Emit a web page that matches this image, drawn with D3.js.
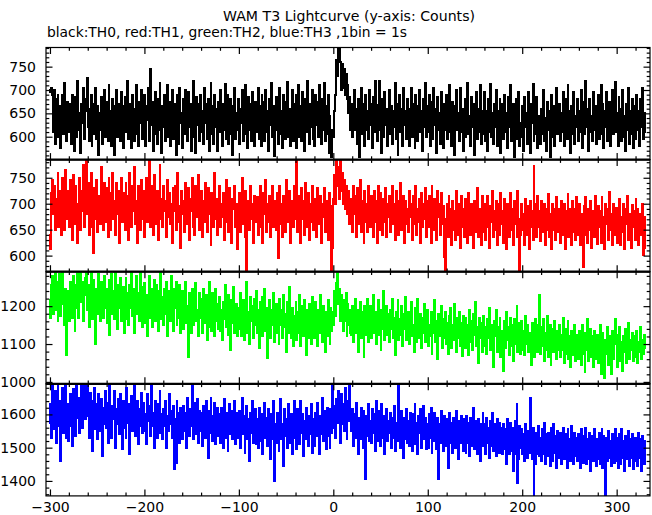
<!DOCTYPE html>
<html><head><meta charset="utf-8">
<script src="https://cdn.jsdelivr.net/npm/d3@7"></script>
<style>
html,body{margin:0;padding:0;background:#fff}
svg{display:block}
text{font-family:"DejaVu Sans",sans-serif;fill:#000}
</style></head>
<body><svg id="chart" width="652" height="515"></svg>
<script>
const titleText = "WAM T3 Lightcurve (y-axis: Counts)";
const subtitleText = "black:TH0, red:TH1, green:TH2, blue:TH3 ,1bin = 1s";
const tStart = -301; // time of first 1-s bin
const xTicks = [-300,-200,-100,0,100,200,300];
const xTickLabels = ["\u2212300","\u2212200","\u2212100","0","100","200","300"];
const seriesNames = ["TH0","TH1","TH2","TH3"];
const seriesColors = ["#000000","#ff0000","#00ff00","#0000ff"];
const yTicks0 = [600,650,700,750];
const yTicks1 = [600,650,700,750];
const yTicks2 = [1000,1100,1200];
const yTicks3 = [1400,1500,1600];
const yRange0 = [551,791];
const yRange1 = [569,785];
const yRange2 = [995,1291];
const yRange3 = [1355,1692];

const th0 = [
700,695,705,690,610,700,585,680,615,690,600,665,575,650,690,605,715,660,590,675,
610,670,645,585,690,625,570,660,685,600,720,650,615,565,670,630,705,595,655,680,
725,620,590,660,690,580,670,605,645,705,595,665,560,650,615,685,585,660,700,600,
645,675,590,710,610,655,580,680,625,560,665,700,600,670,640,590,695,620,575,665,
685,610,655,720,595,645,670,575,690,620,590,660,710,605,580,675,630,700,595,655,
610,690,580,665,635,705,590,745,625,675,570,605,695,650,585,680,615,715,660,565,
665,620,690,590,655,710,600,675,580,640,700,595,670,610,560,660,690,585,705,630,
650,575,680,605,700,660,590,695,620,670,570,645,720,600,660,565,685,625,670,590,
690,610,655,585,705,630,670,595,680,570,650,715,605,665,585,690,620,660,570,675,
610,700,645,580,670,615,712,595,660,690,585,640,680,605,560,665,705,595,650,615,
680,585,660,630,700,590,670,605,710,645,575,685,615,670,590,695,640,580,675,610,
655,705,595,665,580,690,625,675,590,700,610,655,570,680,625,715,600,665,558,650,
685,615,585,665,705,605,655,575,690,640,595,675,718,600,660,580,645,700,590,670,
620,690,575,650,710,600,665,590,695,635,570,680,610,720,655,585,670,620,700,595,
660,580,690,625,675,600,710,645,585,680,615,715,590,665,605,690,565,645,590,556,
615,600,655,690,765,730,792,792,760,700,755,705,745,690,735,680,710,650,685,615,
670,600,645,700,615,660,585,680,556,650,705,605,670,630,580,690,615,655,595,700,
625,670,575,685,610,720,640,590,668,720,615,660,565,680,600,695,625,660,580,645,
700,605,665,585,655,620,715,595,670,560,640,690,610,660,580,705,625,655,595,680,
615,580,660,705,600,650,670,575,690,625,590,665,700,610,655,570,680,620,715,600,
665,610,690,580,650,675,595,705,625,660,565,685,615,650,585,695,640,575,670,615,
690,595,655,610,710,630,580,675,605,560,665,700,615,650,590,705,610,660,570,640,
680,600,650,715,605,645,580,685,620,670,560,645,695,595,660,610,710,585,655,605,
630,695,590,655,570,680,610,712,600,650,585,670,620,700,580,655,605,680,565,640,
670,595,690,610,650,575,685,620,710,590,645,670,556,615,680,595,655,695,580,630,
600,665,570,685,620,650,585,695,610,565,670,630,712,590,655,605,685,575,645,620,
585,660,605,700,590,640,570,675,615,655,556,630,690,600,665,580,645,705,605,630,
670,590,650,610,695,580,640,680,595,710,615,655,565,665,605,695,585,645,620,680,
590,655,610,700,575,635,675,605,720,620,660,570,680,610,645,590,695,615,665,585,
650,690,595,635,710,605,670,575,655,620,695,590,650,675,580,640,700,605,660,718,
610,650,580,685,620,660,590,700,600,645,570,670,615,705,585,655,605,680,575,640,
665,595,690,615,655,580,680,620,705,595,650,610
];
const th1 = [
640,612,720,745,680,735,650,710,665,760,655,705,725,640,750,685,650,765,700,670,
725,655,745,690,630,755,705,660,735,680,625,700,750,650,725,685,775,655,700,782,
680,740,640,710,760,655,695,605,730,670,745,645,715,690,660,770,680,650,740,700,
665,730,635,750,690,650,720,760,670,705,640,740,680,725,625,700,750,665,720,690,
650,740,680,715,630,760,700,655,735,685,770,660,705,625,735,690,650,745,705,670,
725,635,695,750,665,710,785,655,735,690,640,755,700,660,725,630,690,775,670,710,
655,735,685,705,635,745,675,720,660,700,625,730,685,735,650,700,760,665,695,615,
725,680,705,645,740,690,660,730,630,710,685,750,655,700,640,735,675,700,755,650,
690,725,635,705,665,740,695,645,730,680,705,620,720,690,655,760,670,710,640,688,
735,655,700,675,720,630,690,745,665,705,645,730,685,625,710,690,735,655,700,612,
675,720,645,705,750,660,690,635,725,565,685,705,650,735,670,700,625,715,665,690,
712,640,690,735,655,700,625,720,680,745,645,700,665,715,635,690,735,655,705,675,
650,720,595,690,735,660,700,635,715,680,645,745,690,665,725,625,705,685,655,735,
670,700,782,645,715,680,625,730,670,705,640,740,690,655,720,630,700,665,735,685,
650,710,680,635,730,690,660,715,625,700,675,730,645,705,685,630,720,665,695,568,
615,710,755,700,785,735,770,710,782,725,760,700,745,690,735,705,680,725,660,710,
700,645,735,680,715,635,730,685,660,745,645,705,680,625,725,665,700,645,735,675,
655,715,690,635,725,665,705,625,735,680,650,720,690,640,710,665,730,635,700,675,
715,645,690,735,660,700,630,725,670,705,640,695,740,650,685,715,625,705,660,690,
645,725,675,700,630,715,660,695,735,640,690,665,710,625,720,655,700,670,730,635,
705,655,715,680,625,735,690,650,710,665,630,725,675,700,640,720,660,695,598,569,
670,700,635,715,655,690,620,705,650,685,630,725,665,640,700,615,715,655,690,635,
710,650,685,625,720,670,640,700,660,615,705,675,645,730,635,690,660,620,715,665,
645,700,630,685,715,655,615,695,665,725,635,685,650,705,620,675,700,640,720,660,
685,625,710,655,612,700,665,635,720,650,690,620,705,660,685,635,725,670,569,640,
700,650,680,620,710,665,640,695,612,705,655,685,630,772,665,700,635,715,655,685,
628,705,665,645,700,620,690,650,718,635,680,660,612,700,650,690,630,712,665,645,
690,625,705,655,640,700,612,685,650,718,635,690,660,620,705,645,690,630,712,655,
640,700,620,680,655,578,695,640,712,660,625,690,650,705,615,685,660,635,715,650,
622,695,655,685,625,712,645,675,612,700,660,690,630,722,650,680,620,700,655,640,
692,625,680,655,710,620,675,645,700,612,690,660,715,630,680,650,615,698,655,685,
630,710,655,690,620,680,665,640,700,602,675,615
];
const th2 = [
1215,1170,1255,1280,1180,1245,1290,1190,1265,1160,1230,1285,1175,1250,1290,1205,1150,1245,1072,1200,
1240,1160,1265,1205,1170,1280,1230,1135,1255,1195,1290,1170,1245,1290,1210,1265,1160,1230,1275,1290,
1190,1255,1145,1235,1290,1200,1165,1270,1220,1100,1245,1180,1285,1210,1160,1265,1225,1170,1280,1195,
1245,1155,1225,1270,1125,1210,1285,1180,1240,1165,1290,1225,1140,1255,1195,1275,1160,1220,1250,1130,
1215,1275,1165,1235,1150,1255,1195,1290,1175,1245,1130,1220,1280,1180,1235,1160,1290,1205,1145,1250,
1190,1260,1155,1230,1120,1215,1280,1170,1245,1145,1205,1270,1160,1255,1185,1135,1240,1200,1288,1165,
1225,1150,1245,1180,1265,1120,1200,1240,1160,1280,1185,1135,1245,1195,1265,1150,1220,1170,1255,1130,
1190,1240,1140,1215,1265,1155,1200,1065,1235,1170,1130,1245,1195,1150,1225,1260,1160,1190,1120,1235,
1170,1220,1130,1245,1155,1200,1230,1110,1185,1265,1145,1210,1135,1235,1175,1120,1245,1160,1205,1140,
1225,1135,1190,1110,1210,1165,1255,1145,1195,1125,1230,1170,1085,1215,1155,1250,1130,1190,1205,1120,
1195,1140,1235,1120,1180,1215,1110,1205,1155,1265,1130,1185,1100,1225,1160,1200,1115,1220,1150,1240,
1130,1190,1090,1210,1155,1225,1120,1180,1245,1135,1195,1062,1175,1215,1115,1190,1150,1235,1105,1180,
1205,1130,1175,1100,1220,1150,1190,1115,1230,1145,1180,1080,1210,1130,1250,1160,1115,1195,1095,1175,
1160,1210,1110,1185,1130,1230,1095,1170,1200,1120,1215,1145,1070,1190,1115,1205,1155,1100,1225,1140,
1180,1115,1210,1145,1095,1190,1130,1230,1160,1105,1200,1140,1080,1185,1120,1215,1155,1100,1195,1135,
1185,1150,1240,1175,1260,1290,1205,1245,1160,1230,1190,1135,1215,1160,1235,1120,1205,1150,1190,1130,
1125,1200,1105,1180,1220,1130,1190,1080,1165,1210,1115,1185,1140,1065,1200,1125,1175,1220,1105,1165,
1200,1115,1170,1230,1130,1185,1100,1160,1215,1125,1190,1085,1175,1140,1240,1110,1165,1200,1125,1180,
1105,1190,1140,1220,1115,1170,1070,1185,1135,1215,1110,1165,1125,1200,1095,1180,1140,1225,1110,1160,
1185,1100,1165,1210,1120,1150,1080,1195,1135,1105,1220,1150,1115,1180,1090,1170,1130,1205,1105,1155,
1190,1095,1150,1120,1185,1075,1165,1130,1215,1105,1160,1060,1180,1120,1145,1200,1090,1165,1115,1185,
1100,1155,1075,1175,1125,1195,1090,1150,1110,1205,1135,1080,1170,1115,1185,1095,1155,1068,1175,1130,
1090,1170,1120,1150,1070,1190,1105,1160,1085,1180,1125,1210,1095,1145,1050,1170,1115,1155,1080,1140,
1175,1095,1145,1075,1165,1115,1195,1085,1150,1105,1040,1160,1120,1190,1080,1145,1100,1170,1065,1135,
1130,1030,1160,1090,1185,1110,1145,1070,1170,1095,1150,1055,1165,1100,1135,1200,1080,1155,1110,1075,
1160,1085,1135,1070,1175,1100,1150,1080,1115,1130,1045,1155,1095,1140,1065,1165,1110,1080,1150,1230,
1075,1145,1095,1165,1055,1130,1085,1175,1065,1125,1150,1045,1140,1090,1080,1160,1105,1060,1135,1085,
1150,1065,1125,1085,1170,1050,1110,1140,1075,1160,1060,1120,1040,1135,1090,1070,1150,1055,1125,1095,
1060,1135,1090,1045,1150,1075,1115,1025,1130,1085,1165,1055,1110,1140,1065,1120,1040,1135,1095,1060,
1125,1050,1100,1150,1020,1090,1130,1065,1010,1110,1075,1145,1045,1120,1085,1020,1135,1060,1105,1165,
1100,1040,1125,1070,1145,1055,1105,1030,1120,1080,1140,1050,1095,1155,1060,1110,1085,1130,1055,1100,
1120,1065,1135,1050,1105,1080,1145,1060,1110,1075,1125,1090
];
const th3 = [
1575,1630,1530,1692,1605,1555,1670,1515,1620,1692,1565,1640,1460,1600,1680,1545,1615,1692,1530,1630,
1520,1565,1660,1595,1505,1675,1580,1630,1535,1690,1590,1650,1545,1615,1692,1560,1635,1692,1585,1692,
1692,1595,1530,1665,1570,1640,1490,1585,1680,1555,1630,1525,1660,1590,1550,1645,1475,1620,1570,1670,
1560,1635,1515,1605,1685,1565,1530,1625,1585,1670,1500,1615,1570,1645,1540,1660,1590,1495,1640,1560,
1610,1530,1680,1575,1630,1480,1595,1655,1550,1620,1692,1535,1590,1640,1510,1615,1565,1665,1545,1605,
1635,1550,1600,1510,1660,1580,1625,1535,1690,1565,1605,1500,1640,1590,1530,1630,1575,1670,1545,1600,
1525,1615,1565,1640,1500,1595,1550,1660,1570,1610,1530,1625,1435,1585,1455,1640,1555,1605,1515,1620,
1580,1525,1625,1550,1605,1500,1650,1575,1535,1615,1565,1692,1525,1595,1635,1540,1585,1645,1515,1610,
1550,1605,1505,1625,1565,1530,1640,1580,1470,1610,1545,1650,1565,1520,1595,1635,1510,1575,1620,1535,
1600,1515,1620,1555,1500,1645,1565,1530,1605,1490,1585,1630,1540,1610,1525,1575,1640,1510,1565,1605,
1530,1610,1500,1580,1650,1540,1595,1485,1565,1625,1525,1585,1460,1605,1545,1640,1515,1570,1615,1510,
1585,1500,1620,1555,1520,1600,1480,1570,1635,1530,1590,1505,1615,1550,1465,1600,1525,1640,1400,1570,
1515,1605,1550,1490,1590,1645,1525,1570,1445,1615,1535,1585,1500,1630,1555,1515,1600,1480,1575,1640,
1530,1590,1495,1615,1555,1510,1640,1545,1600,1475,1580,1525,1620,1555,1505,1595,1540,1630,1485,1585,
1570,1505,1605,1535,1635,1565,1480,1595,1540,1650,1520,1610,1550,1495,1620,1535,1585,1500,1615,1545,
1692,1560,1625,1530,1645,1575,1670,1600,1515,1660,1570,1630,1550,1680,1595,1525,1640,1580,1692,1610,
1550,1615,1505,1600,1530,1635,1565,1480,1590,1525,1620,1545,1500,1610,1560,1405,1595,1535,1630,1520,
1580,1515,1615,1545,1600,1490,1640,1555,1520,1610,1505,1585,1630,1530,1595,1480,1570,1615,1520,1580,
1545,1605,1500,1590,1530,1625,1490,1575,1520,1595,1692,1540,1500,1610,1555,1470,1590,1525,1615,1515,
1580,1505,1605,1540,1490,1600,1530,1630,1510,1575,1480,1595,1545,1615,1500,1565,1625,1525,1590,1495,
1570,1500,1600,1530,1620,1485,1580,1520,1605,1540,1495,1590,1405,1570,1515,1610,1535,1490,1595,1540,
1505,1585,1440,1530,1605,1515,1575,1485,1590,1525,1500,1610,1540,1465,1580,1515,1595,1530,1490,1585,
1525,1485,1595,1515,1575,1475,1590,1505,1560,1620,1495,1555,1580,1480,1585,1520,1460,1570,1505,1605,
1505,1570,1480,1590,1515,1560,1470,1580,1505,1605,1490,1555,1570,1475,1585,1515,1485,1575,1510,1560,
1480,1570,1495,1555,1450,1585,1510,1480,1575,1490,1560,1430,1545,1580,1480,1630,1395,1465,1565,1500,
1555,1480,1540,1460,1570,1500,1470,1550,1485,1650,1505,1465,1560,1355,1525,1450,1545,1480,1565,1475,
1530,1460,1555,1480,1575,1450,1540,1475,1545,1490,1445,1560,1495,1460,1570,1485,1535,1440,1550,1490,
1470,1545,1450,1530,1560,1465,1515,1540,1440,1555,1475,1525,1460,1565,1490,1450,1545,1475,1530,1460,
1540,1470,1440,1555,1490,1455,1535,1475,1560,1450,1525,1465,1545,1430,1520,1535,1460,1555,1480,1445,
1525,1465,1545,1450,1520,1555,1440,1535,1475,1355,1530,1460,1550,1470,1520,1445,1540,1485,1455,1555,
1460,1530,1440,1540,1475,1450,1555,1470,1520,1430,1535,1465,1515,1550,1445,1525,1470,1540,1435,1515,
1530,1460,1520,1445,1545,1470,1525,1430,1535,1475,1450,1520
];

const series = [th0, th1, th2, th3];
const yTickSets = [yTicks0, yTicks1, yTicks2, yTicks3];
const yRanges = [yRange0, yRange1, yRange2, yRange3];
const yMinorSteps = [10, 10, 20, 20];

// ---- layout ----
const left = 46, right = 650;
const panelTop = 47.5, panelH = 112.1;
const majorLen = 6.5, minorLen = 3.3;

const svg = d3.select("#chart");

svg.append("text").attr("x", 349).attr("y", 20.5).attr("text-anchor", "middle")
  .attr("font-size", 14).attr("textLength", 252).attr("lengthAdjust", "spacingAndGlyphs")
  .text(titleText);
svg.append("text").attr("x", 47).attr("y", 37.3)
  .attr("font-size", 14).attr("textLength", 360).attr("lengthAdjust", "spacingAndGlyphs")
  .text(subtitleText);

const x = d3.scaleLinear().domain([-304.2, 335.3]).range([left, right]);
const xMinor = d3.range(-300, 336, 20).filter(v => v % 100 !== 0);

const defs = svg.append("defs");

series.forEach((data, k) => {
  const y0 = panelTop + k * panelH, y1 = y0 + panelH;
  const y = d3.scaleLinear().domain(yRanges[k]).range([y1, y0]);
  const g = svg.append("g");

  defs.append("clipPath").attr("id", "clip" + k)
    .append("rect").attr("x", left).attr("y", y0).attr("width", right - left).attr("height", panelH);

  const pts = data.concat([data[data.length - 1]]);
  const line = d3.line()
    .x((d, i) => x(tStart + i))
    .y(d => y(d))
    .curve(d3.curveStepAfter);
  g.append("path").datum(pts)
    .attr("clip-path", "url(#clip" + k + ")")
    .attr("d", line)
    .attr("fill", "none")
    .attr("stroke", seriesColors[k])
    .attr("stroke-width", 2)
    .attr("shape-rendering", "crispEdges");

  const st = yMinorSteps[k];
  const d = yRanges[k];
  const yMinor = d3.range(Math.ceil(d[0] / st) * st, d[1] + 0.001, st).filter(v => !yTickSets[k].includes(v));

  g.append("g").attr("transform", `translate(${left},0)`)
    .call(d3.axisLeft(y).tickValues(yTickSets[k]).tickSize(-majorLen).tickPadding(10).tickFormat(d3.format("d")));
  g.append("g").attr("transform", `translate(${left},0)`)
    .call(d3.axisLeft(y).tickValues(yMinor).tickSize(-minorLen).tickFormat(""));
  g.append("g").attr("transform", `translate(${right},0)`)
    .call(d3.axisRight(y).tickValues(yTickSets[k]).tickSize(-majorLen).tickFormat(""));
  g.append("g").attr("transform", `translate(${right},0)`)
    .call(d3.axisRight(y).tickValues(yMinor).tickSize(-minorLen).tickFormat(""));

  g.append("g").attr("transform", `translate(0,${y0})`)
    .call(d3.axisTop(x).tickValues(xTicks).tickSize(-majorLen).tickFormat(""));
  g.append("g").attr("transform", `translate(0,${y0})`)
    .call(d3.axisTop(x).tickValues(xMinor).tickSize(-minorLen).tickFormat(""));
  const bottomMajor = d3.axisBottom(x).tickValues(xTicks).tickSize(-majorLen).tickPadding(6);
  if (k === series.length - 1) bottomMajor.tickFormat((v, i) => xTickLabels[i]);
  else bottomMajor.tickFormat("");
  g.append("g").attr("transform", `translate(0,${y1})`).call(bottomMajor);
  g.append("g").attr("transform", `translate(0,${y1})`)
    .call(d3.axisBottom(x).tickValues(xMinor).tickSize(-minorLen).tickFormat(""));

  g.append("rect").attr("x", left).attr("y", y0).attr("width", right - left).attr("height", panelH)
    .attr("fill", "none").attr("stroke", "#000").attr("stroke-width", 1.2);
  if (k > 0) {
    g.append("line").attr("x1", left).attr("x2", right).attr("y1", y0).attr("y2", y0)
      .attr("stroke", "#000").attr("stroke-width", 2.2);
  }
});

svg.selectAll(".domain").remove();
svg.selectAll(".tick line").attr("stroke", "#000").attr("stroke-width", 1.2);
svg.selectAll(".tick text").attr("font-family", "DejaVu Sans").attr("font-size", 14).attr("fill", "#000");
</script>
</body></html>
